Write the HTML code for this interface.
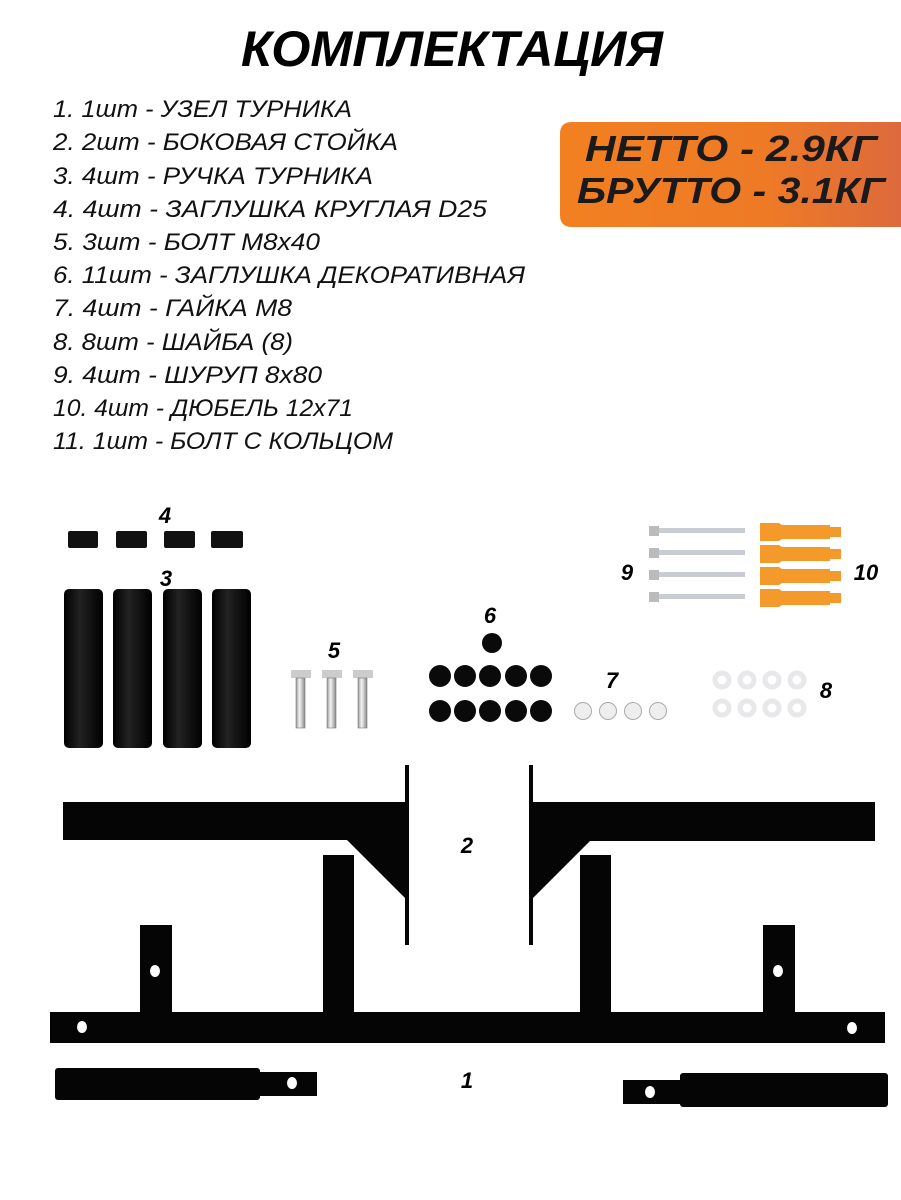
<!DOCTYPE html>
<html><head><meta charset="utf-8"><style>
html,body{margin:0;padding:0;background:#fff;}
svg{display:block;}
text{font-family:"Liberation Sans","DejaVu Sans",sans-serif;}
</style></head><body>
<svg width="901" height="1200" viewBox="0 0 901 1200" xmlns="http://www.w3.org/2000/svg">
<defs>
<linearGradient id="og" x1="0" x2="1" y1="0" y2="0"><stop offset="0" stop-color="#f28020"/><stop offset="0.6" stop-color="#ee7a26"/><stop offset="1" stop-color="#dd6a3c"/></linearGradient>
<linearGradient id="hg" x1="0" x2="1"><stop offset="0" stop-color="#000"/><stop offset="0.4" stop-color="#222"/><stop offset="1" stop-color="#000"/></linearGradient>
<linearGradient id="mg" x1="0" x2="1"><stop offset="0" stop-color="#999"/><stop offset="0.4" stop-color="#f4f4f4"/><stop offset="1" stop-color="#888"/></linearGradient>
</defs>
<text x="452" y="66" text-anchor="middle" font-size="50" font-weight="bold" font-style="italic" textLength="422" lengthAdjust="spacingAndGlyphs">КОМПЛЕКТАЦИЯ</text>
<g font-size="24" font-style="italic" fill="#111">
<text x="53" y="117" textLength="299" lengthAdjust="spacingAndGlyphs">1.  1шт - УЗЕЛ ТУРНИКА</text>
<text x="53" y="150" textLength="345" lengthAdjust="spacingAndGlyphs">2. 2шт - БОКОВАЯ СТОЙКА</text>
<text x="53" y="184" textLength="320" lengthAdjust="spacingAndGlyphs">3. 4шт - РУЧКА ТУРНИКА</text>
<text x="53" y="217" textLength="434" lengthAdjust="spacingAndGlyphs">4. 4шт - ЗАГЛУШКА КРУГЛАЯ D25</text>
<text x="53" y="250" textLength="267" lengthAdjust="spacingAndGlyphs">5. 3шт - БОЛТ М8х40</text>
<text x="53" y="283" textLength="472" lengthAdjust="spacingAndGlyphs">6. 11шт - ЗАГЛУШКА ДЕКОРАТИВНАЯ</text>
<text x="53" y="316" textLength="239" lengthAdjust="spacingAndGlyphs">7.  4шт - ГАЙКА М8</text>
<text x="53" y="350" textLength="240" lengthAdjust="spacingAndGlyphs">8. 8шт - ШАЙБА (8)</text>
<text x="53" y="383" textLength="269" lengthAdjust="spacingAndGlyphs">9. 4шт - ШУРУП 8х80</text>
<text x="53" y="416" textLength="300" lengthAdjust="spacingAndGlyphs">10. 4шт - ДЮБЕЛЬ 12х71</text>
<text x="53" y="449" textLength="340" lengthAdjust="spacingAndGlyphs">11. 1шт - БОЛТ С КОЛЬЦОМ</text>
</g>
<path d="M572,122 H901 V227 H572 Q560,227 560,215 V134 Q560,122 572,122 Z" fill="url(#og)"/>
<g font-size="36" font-weight="bold" font-style="italic" fill="#1a1a1a">
<text x="585" y="161" textLength="292" lengthAdjust="spacingAndGlyphs">НЕТТО - 2.9КГ</text>
<text x="577" y="203" textLength="308" lengthAdjust="spacingAndGlyphs">БРУТТО - 3.1КГ</text>
</g>
<g font-size="22" font-weight="bold" font-style="italic" text-anchor="middle">
<text x="165" y="523">4</text><text x="166" y="586">3</text><text x="334" y="658">5</text><text x="490" y="623">6</text>
<text x="612" y="688">7</text><text x="826" y="698">8</text><text x="627" y="580">9</text><text x="866" y="580">10</text>
<text x="467" y="853">2</text><text x="467" y="1088">1</text>
</g>
<g fill="#111"><rect x="68" y="531" width="30" height="17" rx="2"/><rect x="116" y="531" width="31" height="17" rx="2"/><rect x="164" y="531" width="31" height="17" rx="2"/><rect x="211" y="531" width="32" height="17" rx="2"/></g>
<g fill="url(#hg)"><rect x="64" y="589" width="39" height="159" rx="5"/><rect x="113" y="589" width="39" height="159" rx="5"/><rect x="163" y="589" width="39" height="159" rx="5"/><rect x="212" y="589" width="39" height="159" rx="5"/></g>
<g><rect x="291" y="670" width="20" height="8" fill="#ccc"/><rect x="296" y="678" width="9" height="50" fill="url(#mg)" stroke="#777" stroke-width="0.6"/>
<rect x="322" y="670" width="20" height="8" fill="#ccc"/><rect x="327" y="678" width="9" height="50" fill="url(#mg)" stroke="#777" stroke-width="0.6"/>
<rect x="353" y="670" width="20" height="8" fill="#ccc"/><rect x="358" y="678" width="9" height="50" fill="url(#mg)" stroke="#777" stroke-width="0.6"/></g>
<g fill="#0a0a0a"><circle cx="492" cy="643" r="10"/>
<circle cx="440" cy="676" r="11"/><circle cx="465" cy="676" r="11"/><circle cx="490" cy="676" r="11"/><circle cx="516" cy="676" r="11"/><circle cx="541" cy="676" r="11"/>
<circle cx="440" cy="711" r="11"/><circle cx="465" cy="711" r="11"/><circle cx="490" cy="711" r="11"/><circle cx="516" cy="711" r="11"/><circle cx="541" cy="711" r="11"/></g>
<g fill="#eee" stroke="#aaa" stroke-width="1"><circle cx="583" cy="711" r="8.5"/><circle cx="608" cy="711" r="8.5"/><circle cx="633" cy="711" r="8.5"/><circle cx="658" cy="711" r="8.5"/></g>
<g fill="none" stroke="#e8e8ea" stroke-width="5"><circle cx="722" cy="680" r="7"/><circle cx="747" cy="680" r="7"/><circle cx="772" cy="680" r="7"/><circle cx="797" cy="680" r="7"/>
<circle cx="722" cy="708" r="7"/><circle cx="747" cy="708" r="7"/><circle cx="772" cy="708" r="7"/><circle cx="797" cy="708" r="7"/></g>
<g>
<g id="sc"><rect x="649" y="526" width="10" height="10" fill="#bbb"/><rect x="659" y="528" width="86" height="5" fill="#c9ccd2"/></g>
<use href="#sc" y="22"/><use href="#sc" y="44"/><use href="#sc" y="66"/>
<g id="dw"><path d="M760,523 H779 L782,525 H830 V527 H841 V537 H830 V539 H782 L779,541 H760 Z" fill="#f49a2a"/></g>
<use href="#dw" y="22"/><use href="#dw" y="44"/><use href="#dw" y="66"/>
</g>
<g fill="#050505">
<rect x="63" y="802" width="342" height="38"/>
<rect x="533" y="802" width="342" height="39"/>
<rect x="405" y="765" width="4" height="180"/>
<rect x="529" y="765" width="4" height="180"/>
<rect x="323" y="855" width="31" height="160"/>
<rect x="580" y="855" width="31" height="160"/>
<polygon points="347,840 405,840 405,898"/>
<polygon points="533,840 591,840 533,898"/>
<rect x="50" y="1012" width="835" height="31"/>
<rect x="140" y="925" width="32" height="87"/>
<rect x="763" y="925" width="32" height="87"/>
<rect x="55" y="1068" width="205" height="32" rx="3"/>
<rect x="258" y="1072" width="59" height="24"/>
<rect x="623" y="1080" width="59" height="24"/>
<rect x="680" y="1073" width="208" height="34" rx="3"/>
</g>
<g fill="#fff"><ellipse cx="155" cy="971" rx="5" ry="6"/><ellipse cx="778" cy="971" rx="5" ry="6"/><ellipse cx="82" cy="1027" rx="5" ry="6"/><ellipse cx="852" cy="1028" rx="5" ry="6"/><ellipse cx="292" cy="1083" rx="5" ry="6"/><ellipse cx="650" cy="1092" rx="5" ry="6"/></g>
</svg>
</body></html>
